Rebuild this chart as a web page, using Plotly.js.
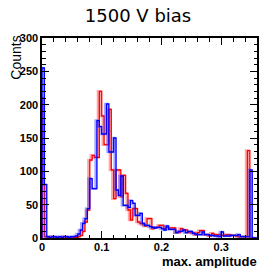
<!DOCTYPE html>
<html><head><meta charset="utf-8">
<script src="https://cdn.plot.ly/plotly-3.0.1.min.js"></script>
<style>html,body{margin:0;padding:0;background:#fff;}#chart{width:259px;height:268px;}</style>
</head><body><div id="chart"></div>
<script>
// histogram: bins of width 0.004 starting at 0 (max. amplitude)
const binWidth = 0.004;
const blueCounts = [
  255,80,2,1,2,2,1,2,1,2,
  2,1,2,2,3,6,12,22,29,44,
  89,74,74,176,167,156,156,201,129,129,
  150,72,64,93,49,49,46,56,52,34,
  34,37,22,19,19,17,16,15,16,16,
  14,12,18,13,13,13,8,10,10,12,
  8,10,10,7,6,5,5,9,5,5,
  4,4,3,3,2,9,3,3,3,4,
  4,4,5,2,2,2,2,102,0,0
];
const redCounts = [
  210,2,1,1,2,1,1,1,1,2,
  1,1,1,1,1,2,4,10,24,42,
  117,124,121,121,220,183,140,140,193,102,
  59,102,102,62,94,67,42,27,44,44,
  24,22,20,18,29,29,14,16,16,19,
  19,14,16,15,15,15,8,8,14,12,
  12,8,8,8,5,8,11,11,5,5,
  3,7,5,5,5,4,4,5,5,4,
  4,3,2,2,2,2,131,0,0,0
];
const titleText = '1500 V bias';
const xTitle = 'max. amplitude';
const yTitle = 'Counts';

function stepXY(counts, shift) {
  const x = [0 + shift], y = [0];
  counts.forEach((c, i) => { x.push(i * binWidth + shift); y.push(c); });
  const end = counts.length * binWidth + shift;
  x.push(end); y.push(counts[counts.length - 1]);
  x.push(end); y.push(0);
  return {x, y};
}
function traces(counts, solid, shade) {
  const s = stepXY(counts, -0.0022);
  const m = stepXY(counts, 0);
  return [
    {type:'scatter', mode:'lines', x:s.x, y:s.y, line:{shape:'hv', color:shade, width:2.6}, hoverinfo:'skip'},
    {type:'scatter', mode:'lines', x:m.x, y:m.y, line:{shape:'hv', color:solid, width:1.3}}
  ];
}
const data = [].concat(
  traces(redCounts, '#ff0000', 'rgba(255,60,60,0.45)'),
  traces(blueCounts, '#0000ff', 'rgba(60,60,255,0.45)')
);
const tickFont = {family:'Liberation Sans, Arial, sans-serif', size:11, weight:'bold', color:'#000'};
const axisBase = {
  showgrid:false, zeroline:false, showline:true, linecolor:'#000', linewidth:1.6,
  mirror:'allticks', ticks:'inside', tickcolor:'#000', tickwidth:1, ticklen:7,
  tickfont:tickFont, fixedrange:true
};
const layout = {
  width:259, height:268,
  margin:{l:42, r:2, t:38, b:30, pad:0},
  paper_bgcolor:'#fff', plot_bgcolor:'#fff',
  showlegend:false,
  title:{text:titleText, x:0.533, xref:'container', xanchor:'center', y:0.94, yref:'container', yanchor:'middle',
         font:{family:'DejaVu Sans, sans-serif', size:18, color:'#000'}},
  xaxis:Object.assign({}, axisBase, {range:[0,0.36], tick0:0, dtick:0.1, ticklabelstandoff:-2,
         minor:{ticks:'inside', tick0:0, dtick:0.02, ticklen:3.5, tickcolor:'#000', tickwidth:1, showgrid:false}}),
  yaxis:Object.assign({}, axisBase, {range:[0,300], tick0:0, dtick:50, ticklen:7,
         minor:{ticks:'inside', tick0:0, dtick:10, ticklen:3.5, tickcolor:'#000', tickwidth:1, showgrid:false}}),
  annotations:[
    {text:yTitle, textangle:-90, xref:'paper', yref:'paper', x:-0.125, y:1.022, xanchor:'center', yanchor:'top',
     showarrow:false, font:{family:'Liberation Sans, Arial, sans-serif', size:14, color:'#000'}},
    {text:xTitle, xref:'paper', yref:'paper', x:1.007, y:-0.118, xanchor:'right', yanchor:'middle',
     showarrow:false, font:{family:'Liberation Sans, Arial, sans-serif', size:13, weight:'bold', color:'#000'}}
  ]
};
Plotly.newPlot('chart', data, layout, {displayModeBar:false, staticPlot:true});
</script>
</body></html>
